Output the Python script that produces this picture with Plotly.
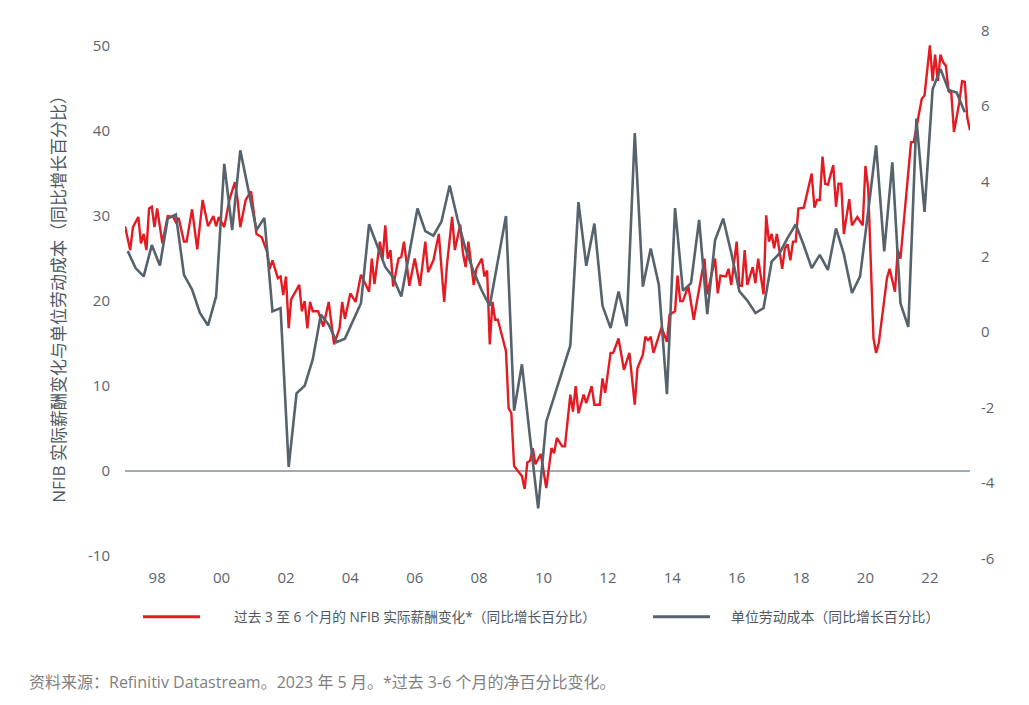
import plotly.graph_objects as go
import pandas as pd

# ---------------- data ----------------
# NFIB real compensation change (months since Jan 1997, value, left axis)
red_month = [0, 2, 3, 5, 6, 7, 8, 9, 10, 11, 12, 14, 16, 18, 19, 20, 22, 23, 25, 27,
             29, 31, 33, 34, 35, 37, 39, 41, 42, 43, 45, 47, 49, 51, 53, 54, 55, 57, 58, 59,
             60, 61, 62, 65, 66, 67, 68, 69, 70, 72, 74, 76, 78, 80, 81, 82, 84, 86, 88, 91,
             92, 93, 95, 96, 97, 98, 99, 100, 102, 103, 104, 106, 108, 110, 112, 113, 115, 117, 118, 119,
             120, 122, 123, 125, 126, 127, 128, 130, 131, 133, 134, 135, 136, 137, 138, 139, 142, 143, 144, 145,
             147, 148, 149, 150, 151, 152, 153, 155, 157, 159, 160, 161, 163, 164, 166, 167, 168, 169, 171, 172,
             174, 175, 177, 178, 179, 181, 182, 184, 186, 188, 190, 191, 193, 194, 195, 196, 197, 200, 202, 203,
             205, 206, 207, 208, 210, 212, 216, 217, 220, 221, 222, 224, 225, 226, 228, 229, 230, 231, 232, 234,
             235, 236, 238, 239, 240, 241, 242, 243, 245, 246, 247, 248, 249, 250, 251, 253, 256, 257, 258, 259,
             260, 261, 262, 264, 265, 266, 267, 268, 270, 271, 273, 275, 276, 277, 279, 280, 281, 284, 285, 287,
             288, 289, 293, 294, 297, 298, 300, 301, 302, 303, 304, 305, 306, 307, 308, 309, 311, 312, 313, 314,
             315]
red_value = [28.8, 26.0, 28.7, 29.9, 26.8, 27.9, 26.0, 30.9, 31.1, 28.7, 30.9, 26.8, 30.0, 29.9, 29.3, 29.8, 27.0, 27.0, 30.8, 26.1,
             31.9, 28.8, 30.0, 28.8, 29.9, 28.7, 32.0, 34.0, 31.9, 28.7, 31.9, 32.9, 27.9, 27.5, 25.8, 23.8, 24.8, 22.7, 22.9, 20.7,
             22.9, 16.8, 20.2, 21.9, 18.8, 20.0, 16.8, 19.9, 18.8, 18.8, 17.0, 19.9, 14.9, 16.8, 19.9, 17.9, 20.9, 19.9, 23.1, 21.1,
             25.0, 22.0, 27.0, 25.0, 28.9, 25.0, 26.0, 21.7, 25.0, 25.2, 27.0, 21.8, 25.0, 21.8, 27.0, 23.4, 24.8, 27.9, 23.8, 19.9,
             24.2, 29.9, 26.0, 29.0, 25.7, 24.0, 27.0, 21.9, 23.8, 25.0, 22.9, 23.6, 14.9, 19.9, 17.8, 17.8, 14.1, 7.4, 6.8, 0.6,
             -0.2, -0.6, -2.1, 1.0, 1.2, 2.7, 0.8, 2.0, -2.0, 2.7, 2.1, 3.9, 2.9, 2.9, 9.0, 7.0, 10.0, 6.8, 9.0, 8.0,
             10.0, 7.8, 7.8, 10.9, 9.2, 13.9, 13.9, 15.6, 11.9, 13.9, 7.8, 12.1, 13.7, 15.8, 15.4, 15.8, 13.9, 16.9, 15.2, 18.4,
             18.8, 23.0, 20.0, 20.0, 21.8, 17.8, 25.0, 20.8, 25.0, 20.9, 23.0, 22.9, 23.8, 21.9, 27.0, 21.8, 21.8, 26.0, 21.9, 24.0,
             22.1, 25.0, 20.8, 30.1, 27.0, 27.9, 26.2, 27.9, 23.8, 26.2, 26.7, 24.8, 27.0, 27.0, 30.9, 31.0, 35.0, 31.0, 31.9, 31.9,
             37.0, 33.8, 33.7, 36.0, 31.1, 33.8, 33.8, 27.9, 32.0, 28.9, 29.9, 28.9, 35.9, 33.3, 15.6, 13.9, 15.1, 22.7, 23.8, 21.1,
             26.0, 25.0, 38.7, 38.7, 43.8, 44.2, 50.1, 45.9, 49.0, 45.9, 49.0, 48.1, 47.7, 44.7, 44.5, 39.9, 43.4, 45.9, 45.8, 41.6,
             40.1]

# Unit labour cost, % y/y (quarterly, first quarter 1997 onwards, right axis)
grey_start = "1997-02-01"
grey_value = [2.15, 1.70, 1.48, 2.31, 1.77, 3.01, 3.12, 1.52, 1.13, 0.51, 0.18, 0.95, 4.46, 2.71, 4.82, 3.80, 2.71, 3.03, 0.55, 0.64,
              -3.57, -1.62, -1.42, -0.72, 0.47, 0.20, -0.26, -0.17, 0.30, 0.77, 2.86, 2.30, 1.73, 1.45, 0.95, 2.10, 3.28, 2.68, 2.56, 2.94,
              3.89, 3.00, 2.20, 1.60, 1.10, 0.70, 1.90, 3.08, -2.08, -0.85, -2.80, -4.67, -2.37, -1.72, -1.05, -0.35, 3.45, 1.76, 2.88, 0.70,
              0.11, 1.08, 0.16, 5.28, 1.21, 2.22, 1.26, -1.64, 3.29, 1.10, 1.30, 2.98, 0.48, 2.44, 3.01, 2.10, 1.08, 0.84, 0.51, 0.64,
              1.87, 2.09, 2.50, 2.86, 2.30, 1.70, 2.05, 1.65, 2.75, 2.07, 1.04, 1.48, 3.20, 4.95, 2.14, 4.50, 0.77, 0.14, 5.66, 3.19,
              6.44, 6.98, 6.42, 6.35, 5.83]

x_ticks = ["1998-01-01", "2000-01-01", "2002-01-01", "2004-01-01", "2006-01-01", "2008-01-01", "2010-01-01",
           "2012-01-01", "2014-01-01", "2016-01-01", "2018-01-01", "2020-01-01", "2022-01-01"]
x_tick_text = ["98", "00", "02", "04", "06", "08", "10", "12", "14", "16", "18", "20", "22"]
left_ticks = [-10, 0, 10, 20, 30, 40, 50]
left_tick_text = ["-10", "0", "10", "20", "30", "40", "50"]
right_ticks = [-6, -4, -2, 0, 2, 4, 6, 8]
right_tick_text = ["-6", "-4", "-2", "0", "2", "4", "6", "8"]

red_name = "过去 3 至 6 个月的 NFIB 实际薪酬变化*（同比增长百分比）"
grey_name = "单位劳动成本（同比增长百分比）"
y_title = "NFIB 实际薪酬变化与单位劳动成本（同比增长百分比）"
source_text = "资料来源：Refinitiv Datastream。2023 年 5 月。*过去 3-6 个月的净百分比变化。"

# ---------------- build ----------------
base = pd.Timestamp("1997-01-01")
red_dates = [base + pd.DateOffset(months=m) for m in red_month]
grey_dates = pd.date_range(grey_start, periods=len(grey_value), freq="3MS")

RED = "#e31b23"
GREY = "#56626c"
TXT = "#5a646e"
FONT = "Open Sans, Noto Sans CJK SC, sans-serif"

fig = go.Figure()
fig.add_trace(go.Scatter(x=grey_dates, y=grey_value, mode="lines", name=grey_name,
                         line=dict(color=GREY, width=2.6), yaxis="y2"))
fig.add_trace(go.Scatter(x=red_dates, y=red_value, mode="lines", name=red_name,
                         line=dict(color=RED, width=2.4), yaxis="y"))

fig.update_layout(
    width=1029, height=705,
    paper_bgcolor="white", plot_bgcolor="white",
    margin=dict(l=117, r=67, t=20, b=154),
    showlegend=False,
    font=dict(family=FONT, color=TXT, size=15),
    xaxis=dict(range=["1997-01-01", "2023-04-01"], tickvals=x_ticks, ticktext=x_tick_text,
               showgrid=False, zeroline=False, showline=False, ticks="",
               tickfont=dict(size=15, color=TXT), ticklabelstandoff=8),
    yaxis=dict(range=[-10.35, 51.9], tickvals=left_ticks, ticktext=left_tick_text,
               showgrid=False, zeroline=True, zerolinecolor="#a2aab0", zerolinewidth=2,
               showline=False, ticks="", tickfont=dict(size=15, color=TXT), ticklabelstandoff=14),
    yaxis2=dict(range=[-6.01, 8.01], tickvals=right_ticks, ticktext=right_tick_text,
                overlaying="y", side="right", showgrid=False, zeroline=False, showline=False,
                ticks="", tickfont=dict(size=15, color=TXT), ticklabelstandoff=10),
)

# left axis title
fig.add_annotation(text=y_title, xref="paper", yref="paper", x=-0.079, y=0.50,
                   textangle=-90, showarrow=False, font=dict(size=17, color="#4d5862"),
                   xanchor="center", yanchor="middle")

# custom legend
leg_y = -0.109
fig.add_shape(type="line", xref="paper", yref="paper", x0=0.0213, x1=0.0888, y0=leg_y, y1=leg_y,
              line=dict(color=RED, width=3))
fig.add_annotation(text=red_name, xref="paper", yref="paper", x=0.1266, y=leg_y,
                   xanchor="left", yanchor="middle", showarrow=False,
                   font=dict(size=13.7, color="#4d5862"))
fig.add_shape(type="line", xref="paper", yref="paper", x0=0.6249, x1=0.6923, y0=leg_y, y1=leg_y,
              line=dict(color=GREY, width=3))
fig.add_annotation(text=grey_name, xref="paper", yref="paper", x=0.7148, y=leg_y,
                   xanchor="left", yanchor="middle", showarrow=False,
                   font=dict(size=13.9, color="#4d5862"))

# source note
fig.add_annotation(text=source_text, xref="paper", yref="paper", x=-0.116, y=-0.2316,
                   xanchor="left", yanchor="middle", showarrow=False,
                   font=dict(size=16, color="#7f7f7f"))

fig.write_html("out.html")
